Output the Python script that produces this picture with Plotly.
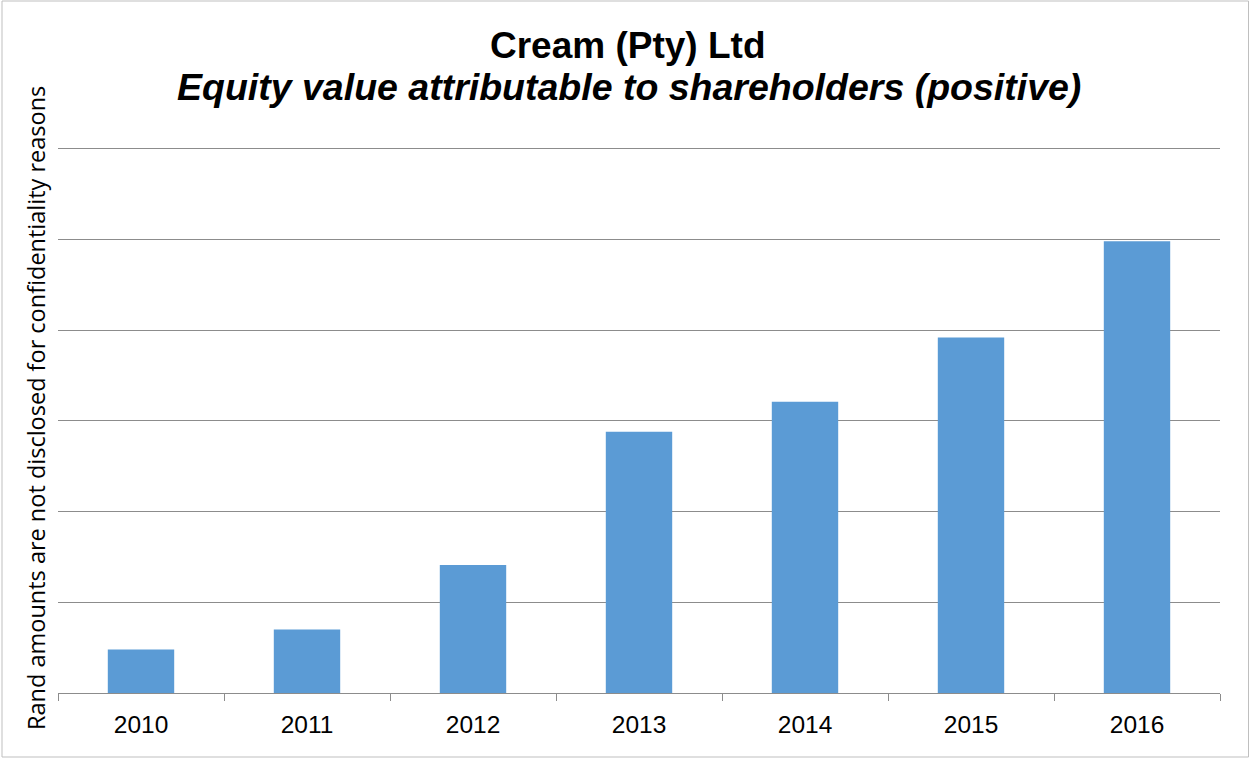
import plotly.graph_objects as go

years = ["2010", "2011", "2012", "2013", "2014", "2015", "2016"]
values = [0.48, 0.70, 1.41, 2.88, 3.21, 3.92, 4.98]

title_line1 = "Cream (Pty) Ltd"
title_line2 = "Equity value attributable to shareholders (positive)"
y_title = "Rand amounts are not disclosed for confidentiality reasons"

W, H = 1250, 758
L, R, T, B = 58, 30, 147, 65
pw, ph = W - L - R, H - T - B
YMAX = 6.02

def px_x(px):
    return (px - L) / pw

def px_y(py):
    return (H - B - py) / ph

fig = go.Figure()
fig.add_trace(go.Bar(x=years, y=values, marker=dict(color="#5B9BD5", line=dict(width=0)),
                     width=0.4))

fig.update_layout(
    width=W, height=H,
    margin=dict(l=L, r=R, t=T, b=B),
    paper_bgcolor="white", plot_bgcolor="white",
    showlegend=False,
    xaxis=dict(
        type="category", showline=True, linecolor="#8C8C8C", linewidth=1,
        ticks="outside", tickson="boundaries", ticklen=7, tickcolor="#8C8C8C",
        ticklabelstandoff=10,
        tickfont=dict(family="Liberation Sans, Arial", size=24.5, color="black"),
        showgrid=False, zeroline=False,
    ),
    yaxis=dict(
        range=[0, YMAX], tickvals=[1, 2, 3, 4, 5, 6], showticklabels=False, showgrid=True,
        gridcolor="#8C8C8C", gridwidth=1, zeroline=False, showline=False,
        ticks="",
    ),
    annotations=[
        dict(text="<b>" + title_line1 + "</b>", x=px_x(627), y=px_y(45), xref="paper", yref="paper",
             xanchor="center", yanchor="middle", showarrow=False,
             font=dict(family="Liberation Sans, Arial", size=37, color="black")),
        dict(text="<b><i>" + title_line2 + "</i></b>", x=px_x(629), y=px_y(87), xref="paper", yref="paper",
             xanchor="center", yanchor="middle", showarrow=False,
             font=dict(family="Liberation Sans, Arial", size=37.5, color="black")),
        dict(text=y_title, x=px_x(36), y=px_y(408), xref="paper", yref="paper",
             xanchor="center", yanchor="middle", showarrow=False, textangle=-90,
             font=dict(family="Open Sans", size=23.5, color="black")),
    ],
    shapes=[
        dict(type="rect", xref="paper", yref="paper",
             x0=px_x(2), x1=px_x(1248.5), y0=px_y(757), y1=px_y(1),
             line=dict(color="#BFBFBF", width=1), fillcolor="rgba(0,0,0,0)", layer="below"),
    ],
)

fig.write_html("out.html", config={"displayModeBar": False},
               post_script="document.body.style.margin='0px';")
